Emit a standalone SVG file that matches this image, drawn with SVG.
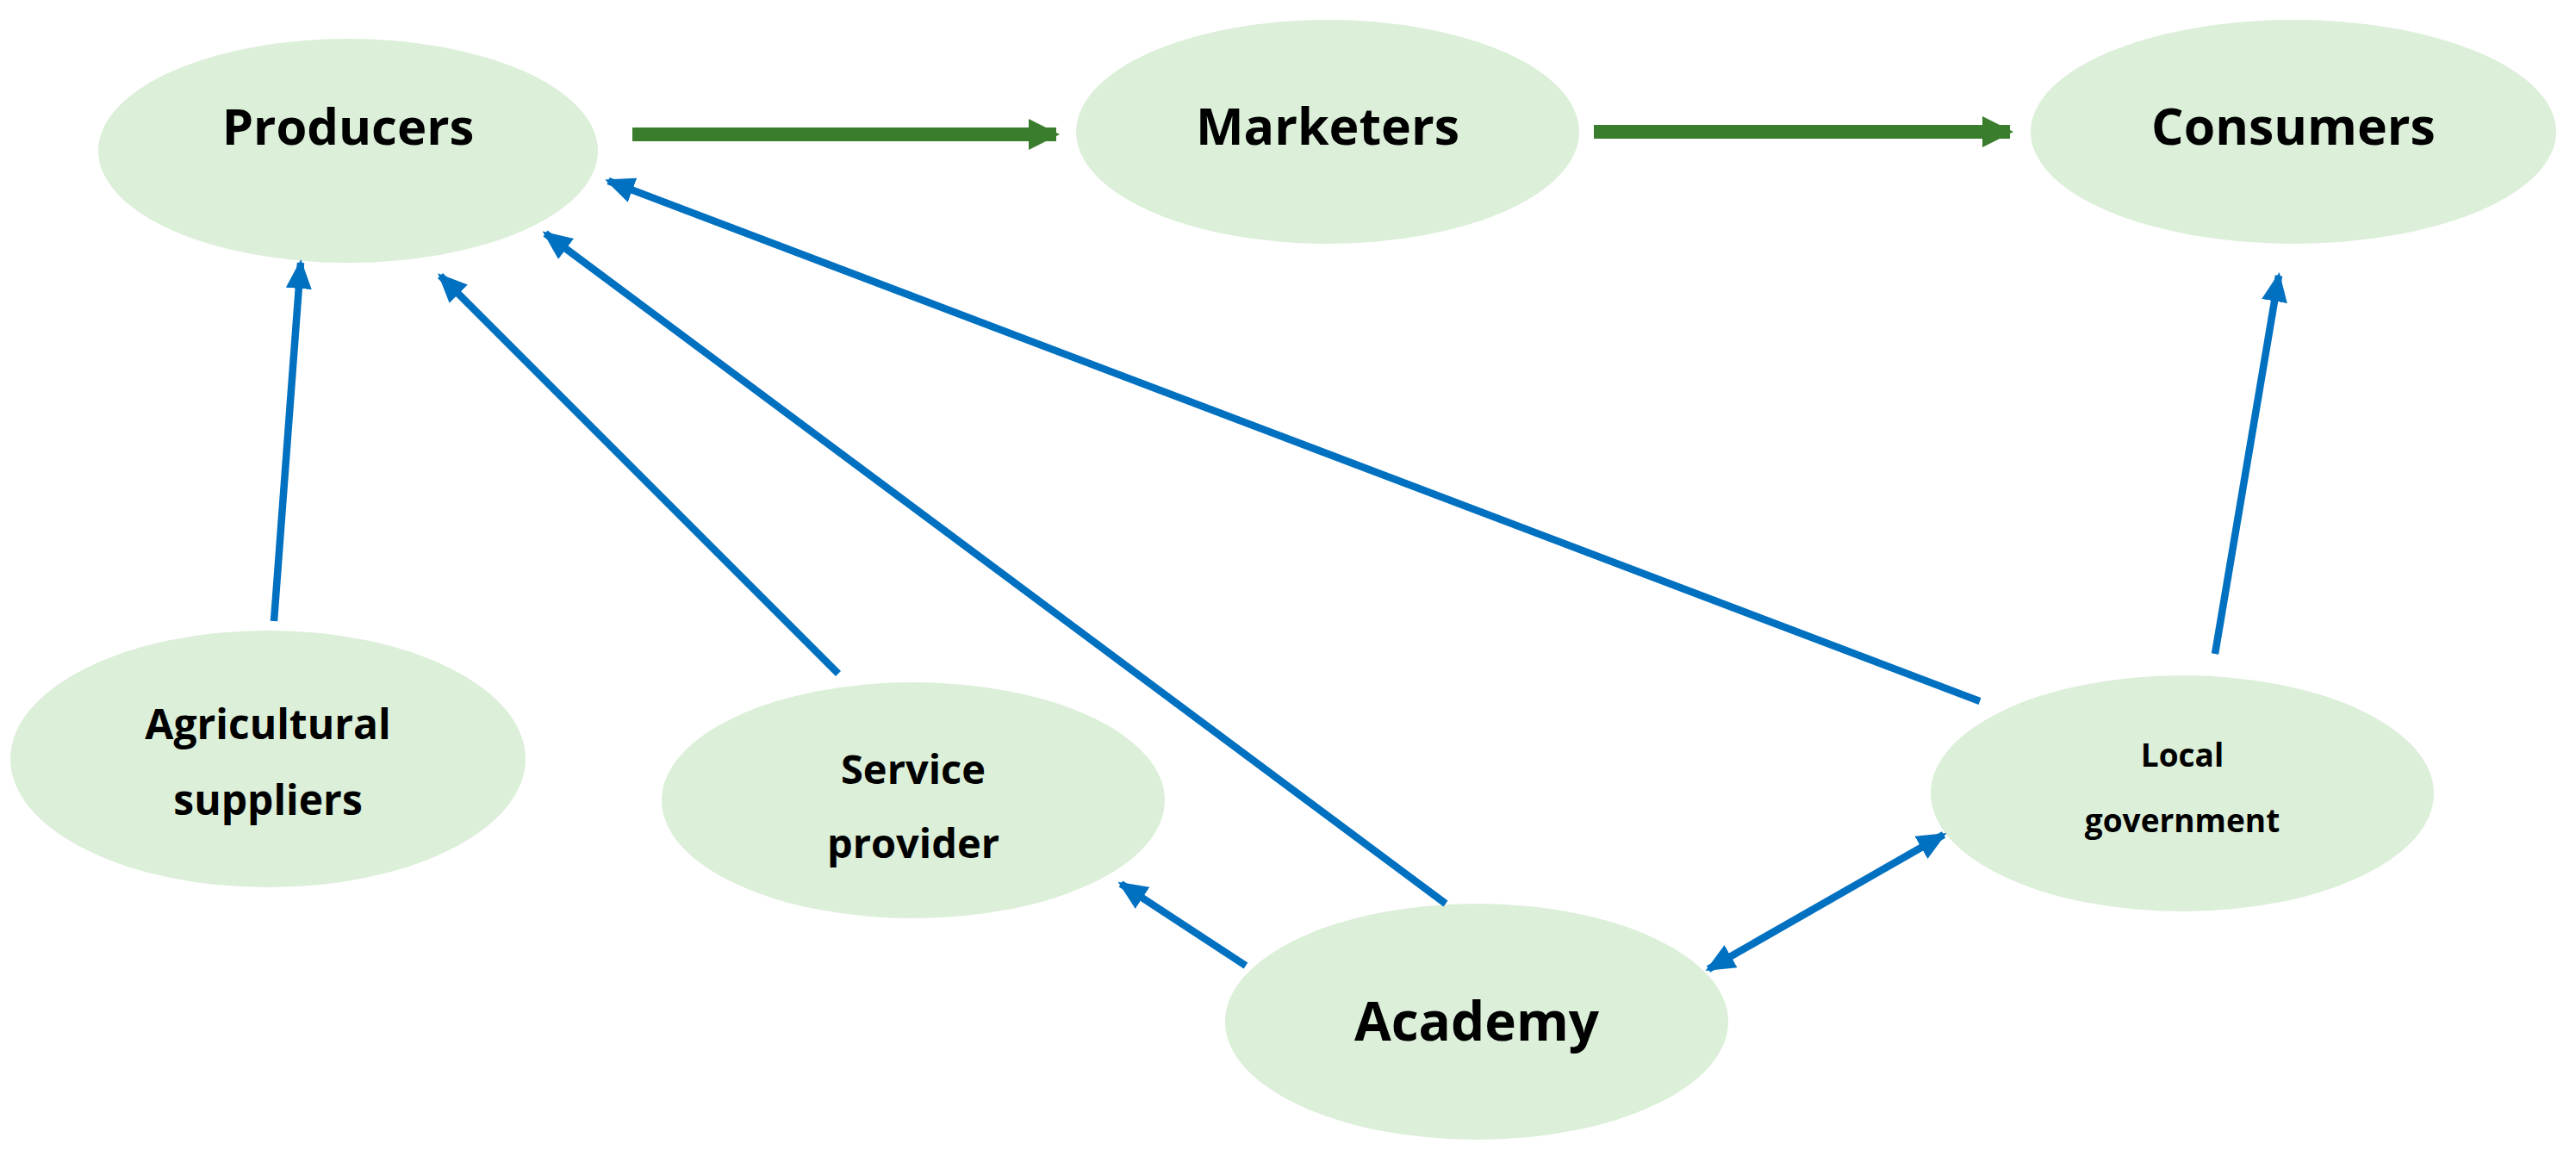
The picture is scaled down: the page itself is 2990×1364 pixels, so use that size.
<svg xmlns="http://www.w3.org/2000/svg" width="2990" height="1364" viewBox="0 0 2990 1364">
<style>
.n{fill:#dcefd9}
.t{font-family:"Open Sans","Liberation Sans",sans-serif;font-weight:bold;fill:#000;text-anchor:middle}
.b{stroke:#0070c0;stroke-width:8.5;fill:none}
.g{stroke:#3a7d2c;stroke-width:16;fill:none}
</style>
<defs>
<marker id="ab" markerUnits="userSpaceOnUse" markerWidth="34" markerHeight="30" refX="30" refY="15" orient="auto-start-reverse"><path d="M0,0 L34,15 L0,30 Z" fill="#0070c0"/></marker>
<marker id="ag" markerUnits="userSpaceOnUse" markerWidth="36" markerHeight="36" refX="32" refY="18" orient="auto"><path d="M0,0 L36,18 L0,36 Z" fill="#3a7d2c"/></marker>
</defs>
<rect width="2990" height="1364" fill="#fff"/>
<g id="producers"><ellipse class="n" cx="404" cy="175" rx="290" ry="130"/><text class="t" x="404" y="168" font-size="58">Producers</text></g>
<g id="marketers"><ellipse class="n" cx="1541" cy="153" rx="292" ry="130"/><text class="t" x="1541" y="168" font-size="59">Marketers</text></g>
<g id="consumers"><ellipse class="n" cx="2662" cy="153" rx="305" ry="130"/><text class="t" x="2662" y="168" font-size="59">Consumers</text></g>
<g id="agri"><ellipse class="n" cx="311" cy="881" rx="299" ry="149"/><text class="t" font-size="48"><tspan x="311" y="858">Agricultural</tspan><tspan x="311" y="946">suppliers</tspan></text></g>
<g id="service"><ellipse class="n" cx="1060" cy="929" rx="292" ry="137"/><text class="t" font-size="47"><tspan x="1060" y="910">Service</tspan><tspan x="1060" y="996">provider</tspan></text></g>
<g id="localgov"><ellipse class="n" cx="2533" cy="921" rx="292" ry="137"/><text class="t" font-size="37"><tspan x="2533" y="890">Local</tspan><tspan x="2533" y="966">government</tspan></text></g>
<g id="academy"><ellipse class="n" cx="1714" cy="1186" rx="292" ry="137"/><text class="t" x="1714" y="1208" font-size="62">Academy</text></g>
<g id="connectors">
<line class="g" x1="734" y1="156" x2="1226" y2="156" marker-end="url(#ag)"/>
<line class="g" x1="1850" y1="153" x2="2333" y2="153" marker-end="url(#ag)"/>
<line class="b" x1="318" y1="721" x2="349" y2="305" marker-end="url(#ab)"/>
<line class="b" x1="973" y1="782" x2="511" y2="320" marker-end="url(#ab)"/>
<line class="b" x1="1678" y1="1049" x2="633" y2="271" marker-end="url(#ab)"/>
<line class="b" x1="2298" y1="814" x2="706" y2="210" marker-end="url(#ab)"/>
<line class="b" x1="2571" y1="759" x2="2645" y2="320" marker-end="url(#ab)"/>
<line class="b" x1="1446" y1="1121" x2="1301" y2="1026" marker-end="url(#ab)"/>
<line class="b" x1="1983" y1="1125" x2="2256" y2="969" marker-start="url(#ab)" marker-end="url(#ab)"/>
</g>
</svg>
